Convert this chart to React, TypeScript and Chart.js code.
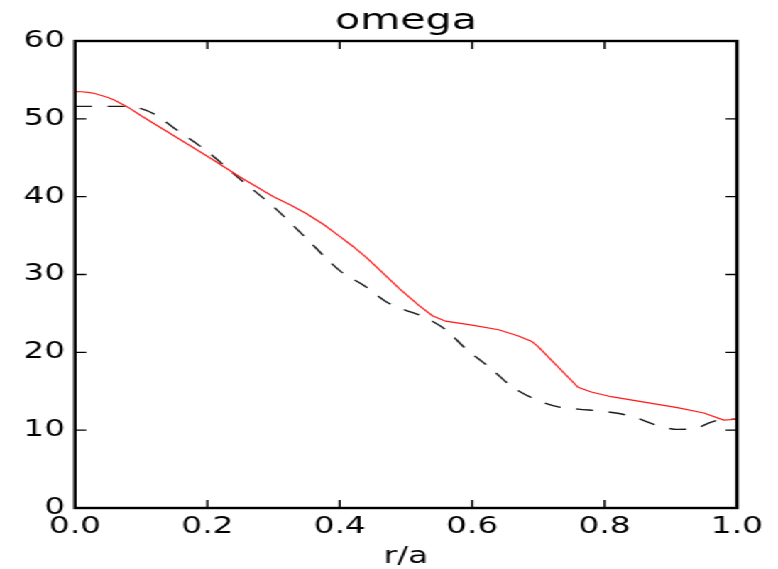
import React, { useEffect, useRef } from 'react';
import { Chart, registerables } from 'chart.js';

Chart.register(...registerables);

// Red solid profile
const rRed = [0, 0.01, 0.02, 0.03, 0.04, 0.05, 0.06, 0.08, 0.1, 0.15, 0.2, 0.25, 0.3, 0.325, 0.35, 0.375, 0.4, 0.42, 0.44, 0.465, 0.49, 0.52, 0.54, 0.56, 0.6, 0.64, 0.67, 0.69, 0.7, 0.76, 0.78, 0.81, 0.86, 0.91, 0.95, 0.98, 1.0];
const omegaRed = [53.5, 53.48, 53.4, 53.25, 53.0, 52.75, 52.4, 51.5, 50.4, 47.8, 45.2, 42.5, 40.0, 38.95, 37.8, 36.45, 34.9, 33.6, 32.2, 30.2, 28.2, 26.0, 24.7, 24.0, 23.5, 22.9, 22.1, 21.4, 20.7, 15.5, 14.9, 14.3, 13.6, 12.9, 12.2, 11.3, 11.4];

// Black dashed profile
const rBlack = [0, 0.08, 0.1, 0.12, 0.15, 0.2, 0.25, 0.3, 0.35, 0.4, 0.44, 0.47, 0.5, 0.52, 0.54, 0.56, 0.59, 0.63, 0.66, 0.7, 0.73, 0.76, 0.8, 0.84, 0.88, 0.91, 0.94, 0.96, 0.98, 1.0];
const omegaBlack = [51.6, 51.6, 51.3, 50.6, 48.8, 45.8, 42.2, 38.7, 34.6, 30.5, 28.4, 26.5, 25.4, 24.8, 24.0, 22.9, 20.5, 17.8, 15.6, 13.8, 13.0, 12.7, 12.4, 11.8, 10.6, 10.1, 10.3, 11.0, 11.4, 11.4];

const xTicks = [0, 0.2, 0.4, 0.6, 0.8, 1.0];
const yTicks = [0, 10, 20, 30, 40, 50, 60];

const chartTitle = 'omega';
const xLabel = 'r/a';

const INNER_W = 548;
const H = 569;
const STRETCH = 778 / INNER_W;
const FONT = '"DejaVu Sans", sans-serif';

const frameTicks = {
  id: 'frameTicks',
  afterDatasetsDraw(chart: any) {
    const { ctx, chartArea, scales } = chart;
    const { left, right, top, bottom } = chartArea;
    const x = scales.x;
    const y = scales.y;
    const L = 8;
    ctx.save();
    ctx.strokeStyle = '#000';
    ctx.lineWidth = 1.4;
    ctx.beginPath();
    for (const v of xTicks) {
      const px = x.getPixelForValue(v);
      ctx.moveTo(px, bottom);
      ctx.lineTo(px, bottom - L);
      ctx.moveTo(px, top);
      ctx.lineTo(px, top + L);
    }
    for (const v of yTicks) {
      const py = y.getPixelForValue(v);
      ctx.moveTo(left, py);
      ctx.lineTo(left + L, py);
      ctx.moveTo(right, py);
      ctx.lineTo(right - L, py);
    }
    ctx.stroke();
    ctx.lineWidth = 2.4;
    ctx.strokeRect(left, top, right - left, bottom - top);
    // title centred over the plot area
    ctx.fillStyle = '#000';
    ctx.font = `29px ${FONT}`;
    ctx.textAlign = 'center';
    ctx.textBaseline = 'alphabetic';
    ctx.fillText(chartTitle, (left + right) / 2, 29);
    ctx.restore();
  },
};

export default function App() {
  const canvasRef = useRef<HTMLCanvasElement | null>(null);

  useEffect(() => {
    if (!canvasRef.current) return;
    const chart = new Chart(canvasRef.current, {
      type: 'line',
      data: {
        datasets: [
          {
            data: rRed.map((r, i) => ({ x: r, y: omegaRed[i] })),
            borderColor: '#ff1a1a',
            borderWidth: 1.2,
            pointRadius: 0,
            tension: 0,
            fill: false,
          },
          {
            data: rBlack.map((r, i) => ({ x: r, y: omegaBlack[i] })),
            borderColor: '#1a1a1a',
            borderWidth: 1.4,
            borderDash: [12, 11],
            pointRadius: 0,
            cubicInterpolationMode: 'monotone',
            fill: false,
          },
        ],
      },
      options: {
        animation: false,
        responsive: true,
        maintainAspectRatio: false,
        layout: { padding: { left: 0, right: 28.9, top: 41, bottom: 0 }, autoPadding: false },
        plugins: {
          legend: { display: false },
          tooltip: { enabled: false },
          title: { display: false },
        },
        scales: {
          x: {
            type: 'linear',
            min: 0,
            max: 1,
            afterFit: (s: any) => { s.height = 61; },
            afterBuildTicks: (s: any) => { s.ticks = xTicks.map((v) => ({ value: v })); },
            ticks: {
              color: '#000',
              font: { family: FONT, size: 23, lineHeight: 1.2 },
              padding: 5,
              maxRotation: 0,
              callback: (v: any) => Number(v).toFixed(1),
            },
            grid: { display: false, drawTicks: false },
            border: { display: false },
            title: {
              display: true,
              text: xLabel,
              color: '#000',
              font: { family: FONT, size: 23, lineHeight: 1 },
              padding: { top: 0, bottom: 0 },
            },
          },
          y: {
            type: 'linear',
            min: 0,
            max: 60,
            afterFit: (s: any) => { s.width = 52.8; },
            afterBuildTicks: (s: any) => { s.ticks = yTicks.map((v) => ({ value: v })); },
            ticks: {
              color: '#000',
              font: { family: FONT, size: 23, lineHeight: 1.2 },
              padding: 7,
              callback: (v: any) => String(v),
            },
            grid: { display: false, drawTicks: false },
            border: { display: false },
          },
        },
      },
      plugins: [frameTicks],
    });
    return () => chart.destroy();
  }, []);

  return (
    <div
      style={{
        position: 'fixed',
        left: 0,
        top: 0,
        width: INNER_W,
        height: H,
        transform: `scaleX(${STRETCH})`,
        transformOrigin: '0 0',
        background: '#fff',
      }}
    >
      <canvas ref={canvasRef} />
    </div>
  );
}
